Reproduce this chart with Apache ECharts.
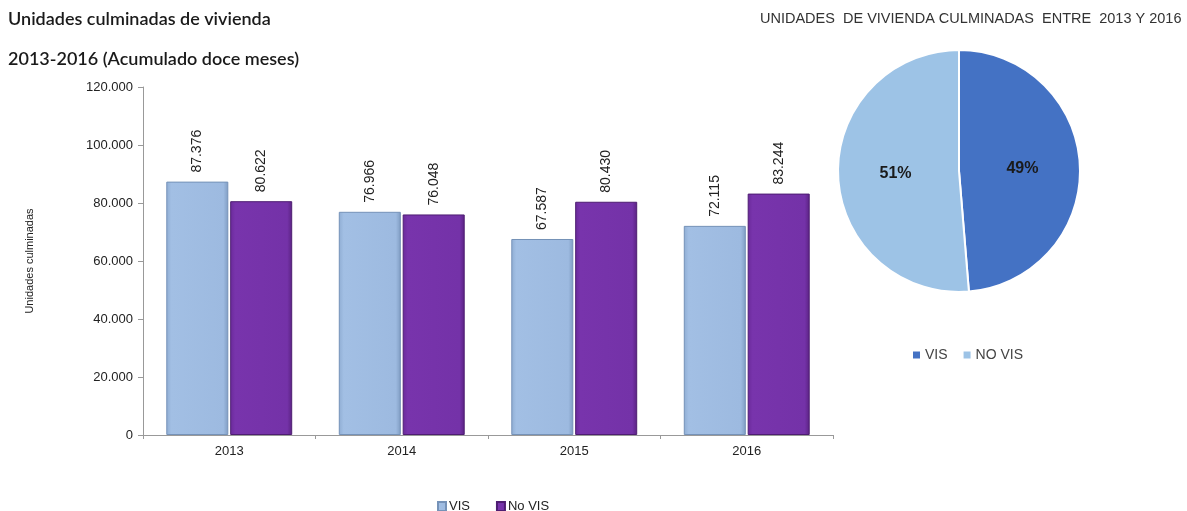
<!DOCTYPE html>
<html>
<head>
<meta charset="utf-8">
<script src="https://cdn.jsdelivr.net/npm/echarts@6/dist/echarts.min.js"></script>
<style>
  html, body { margin: 0; padding: 0; background: #fff; }
  #chart { width: 1187px; height: 511px; }
</style>
</head>
<body>
<div id="chart"></div>
<script>
const years = ['2013', '2014', '2015', '2016']
const vis = [87376, 76966, 67587, 72115]
const noVis = [80622, 76048, 80430, 83244]
const pieNames = ['VIS', 'NO VIS']
const pieValues = [304044, 320344]

const fmt = v => v === 0 ? '0' : v.toLocaleString('de-DE')

const chart = echarts.init(document.getElementById('chart'))

const barLabel = {
  show: true,
  position: 'top',
  rotate: 90,
  align: 'left',
  verticalAlign: 'middle',
  distance: 9,
  color: '#222',
  fontSize: 14,
  fontFamily: 'Liberation Sans, Arial, sans-serif',
  formatter: p => fmt(p.value)
}

chart.setOption({
  animation: false,
  title: [
    {
      text: 'Unidades culminadas de vivienda',
      left: 3, top: 5,
      textStyle: { fontSize: 18, fontWeight: 600, color: '#1a1a1a', fontFamily: 'Lato, sans-serif' }
    },
    {
      text: '2013-2016 (Acumulado doce meses)',
      left: 3, top: 45,
      textStyle: { fontSize: 18, fontWeight: 600, color: '#1a1a1a', fontFamily: 'Lato, sans-serif' }
    },
    {
      text: 'UNIDADES  DE VIVIENDA CULMINADAS  ENTRE  2013 Y 2016',
      left: 755, top: 6,
      textStyle: { fontSize: 14.5, fontWeight: 'normal', color: '#333', fontFamily: 'Liberation Sans, Arial, sans-serif' }
    }
  ],
  legend: [
    {
      data: ['VIS', 'No VIS'],
      left: 432, top: 495,
      itemWidth: 8, itemHeight: 9, itemGap: 26,
      icon: 'rect',
      textStyle: { fontSize: 13, color: '#222', fontFamily: 'Liberation Sans Narrow, Liberation Sans, sans-serif', padding: [0, 0, 0, -2] }
    },
    {
      data: [
        { name: 'VIS', itemStyle: { color: '#4472C4', borderWidth: 0 } },
        { name: 'NO VIS', itemStyle: { color: '#9DC3E6', borderWidth: 0 } }
      ],
      left: 908, top: 343,
      itemWidth: 7, itemHeight: 7, itemGap: 16,
      icon: 'rect',
      textStyle: { fontSize: 14, color: '#444', fontFamily: 'Liberation Sans, Arial, sans-serif' }
    }
  ],
  grid: { left: 143, right: 354, top: 87, bottom: 76 },
  xAxis: {
    type: 'category',
    data: years,
    axisLine: { lineStyle: { color: '#999' } },
    axisTick: { show: true, length: 4, lineStyle: { color: '#999' } },
    axisLabel: { color: '#222', fontSize: 13, margin: 10, fontFamily: 'Liberation Sans, Arial, sans-serif' }
  },
  yAxis: {
    type: 'value',
    min: 0, max: 120000, interval: 20000,
    name: 'Unidades culminadas',
    nameLocation: 'middle',
    nameGap: 108,
    nameTextStyle: { fontSize: 11, color: '#222', fontFamily: 'Liberation Sans, Arial, sans-serif' },
    axisLine: { show: true, lineStyle: { color: '#999' } },
    axisTick: { show: true, length: 5, lineStyle: { color: '#999' } },
    splitLine: { show: false },
    axisLabel: { color: '#222', fontSize: 13, margin: 10, formatter: fmt, fontFamily: 'Liberation Sans, Arial, sans-serif' }
  },
  series: [
    {
      name: 'VIS',
      type: 'bar',
      data: vis,
      barCategoryGap: '27%',
      barGap: '3%',
      itemStyle: {
        color: new echarts.graphic.LinearGradient(0, 0, 1, 0, [
          { offset: 0, color: '#8FADD3' },
          { offset: 0.08, color: '#A2BFE4' },
          { offset: 0.92, color: '#9DBAE0' },
          { offset: 1, color: '#7F9CC2' }
        ]),
        borderColor: '#7592B8',
        borderWidth: 1
      },
      label: barLabel
    },
    {
      name: 'No VIS',
      type: 'bar',
      data: noVis,
      itemStyle: {
        color: new echarts.graphic.LinearGradient(0, 0, 1, 0, [
          { offset: 0, color: '#6A2A9A' },
          { offset: 0.08, color: '#7834AC' },
          { offset: 0.92, color: '#7432A8' },
          { offset: 1, color: '#5A2282' }
        ]),
        borderColor: '#4E1D72',
        borderWidth: 1
      },
      label: barLabel
    },
    {
      name: 'pie',
      type: 'pie',
      center: [959, 171],
      radius: 121,
      startAngle: 90,
      clockwise: true,
      data: pieNames.map((n, i) => ({
        name: n,
        value: pieValues[i],
        itemStyle: { color: i === 0 ? '#4472C4' : '#9DC3E6' }
      })),
      itemStyle: { borderColor: '#fff', borderWidth: 2 },
      label: {
        show: true,
        position: 'inner',
        formatter: p => Math.round(p.percent) + '%',
        fontSize: 16,
        fontWeight: 'bold',
        color: '#1a1a1a',
        fontFamily: 'Liberation Sans, Arial, sans-serif'
      },
      labelLine: { show: false }
    }
  ]
})
</script>
</body>
</html>
